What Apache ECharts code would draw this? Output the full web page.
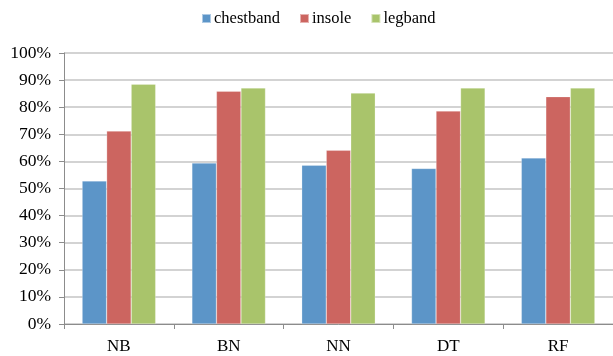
<!DOCTYPE html>
<html>
<head>
<meta charset="utf-8">
<script src="https://cdn.jsdelivr.net/npm/echarts@6/dist/echarts.min.js"></script>
<style>
  html, body { margin: 0; padding: 0; background: #fff; }
  #chart { width: 613px; height: 356px; }
</style>
</head>
<body>
<div id="chart"></div>
<script>
// Classifier accuracy (%) per sensor placement
var categories = ['NB', 'BN', 'NN', 'DT', 'RF'];
var chestband = [52.8, 59.4, 58.6, 57.4, 61.3];
var insole = [71.2, 85.9, 64.1, 78.6, 83.9];
var legband = [88.5, 87.1, 85.2, 87.1, 87.1];

var font = '"Liberation Serif", "Times New Roman", serif';
var chart = echarts.init(document.getElementById('chart'), null, { renderer: 'canvas' });

function bar(name, data, color) {
  return {
    name: name,
    type: 'bar',
    data: data,
    barGap: '0%',
    barCategoryGap: '33%',
    itemStyle: { color: color, borderColor: 'rgba(255,255,255,0.5)', borderWidth: 0.5 }
  };
}

chart.setOption({
  animation: false,
  textStyle: { fontFamily: font },
  legend: {
    left: 196,
    top: 5,
    itemWidth: 9,
    itemHeight: 9,
    itemGap: 19,
    icon: 'rect',
    textStyle: { fontFamily: font, fontSize: 16.5, color: '#000', padding: [0, 0, 0, -2] },
    data: ['chestband', 'insole', 'legband']
  },
  grid: { left: 64, right: 0, top: 53, bottom: 32, containLabel: false },
  xAxis: {
    type: 'category',
    data: categories,
    axisLine: { lineStyle: { color: '#8c8c8c', width: 1 } },
    axisTick: { show: true, length: 5, alignWithLabel: false, lineStyle: { color: '#8c8c8c' } },
    axisLabel: { color: '#000', fontFamily: font, fontSize: 17, margin: 14 }
  },
  yAxis: {
    type: 'value',
    min: 0,
    max: 100,
    interval: 10,
    axisLine: { show: true, lineStyle: { color: '#8c8c8c', width: 1 } },
    axisTick: { show: true, length: 5, lineStyle: { color: '#8c8c8c' } },
    axisLabel: { color: '#000', fontFamily: font, fontSize: 17.5, margin: 13, formatter: '{value}%' },
    splitLine: { lineStyle: { color: '#d3d3d3', width: 2 } }
  },
  series: [
    bar('chestband', chestband, '#5c95c8'),
    bar('insole', insole, '#cc6560'),
    bar('legband', legband, '#a9c46b')
  ]
});
</script>
</body>
</html>
